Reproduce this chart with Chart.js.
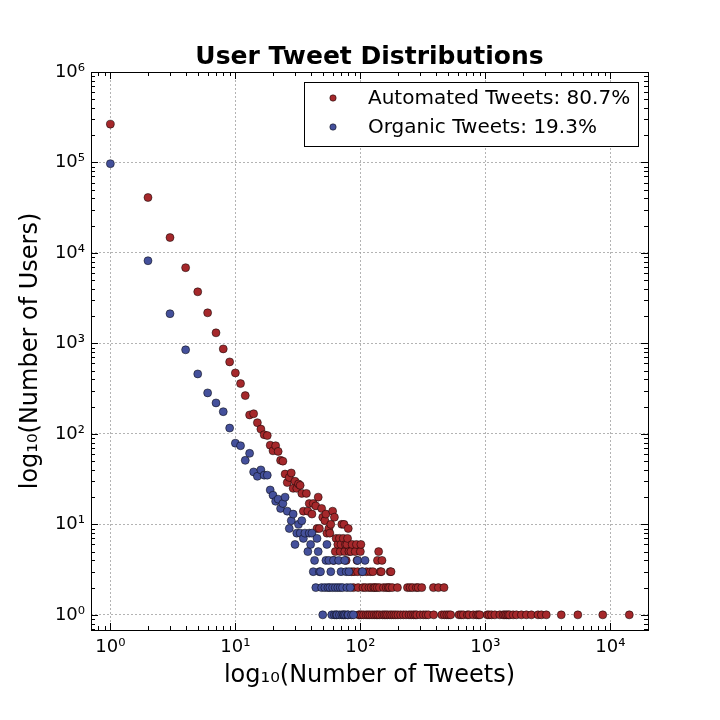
<!DOCTYPE html>
<html>
<head>
<meta charset="utf-8">
<title>User Tweet Distributions</title>
<script src="https://cdn.jsdelivr.net/npm/chart.js@4.4.1/dist/chart.umd.min.js"></script>
<style>
  html, body { margin: 0; padding: 0; background: #fff; }
  #wrap { width: 720px; height: 720px; }
</style>
</head>
<body>
<div id="wrap"><canvas id="tweetChart" width="720" height="720"></canvas></div>
<script>
// number of tweets per user (x) and how many users posted that many (y)
const automatedTweets = [1, 2, 3, 4, 5, 6, 7, 8, 9, 10, 11, 12, 13, 14, 15, 16, 17, 18, 19, 20,
    21, 22, 23, 24, 25, 26, 27, 28, 29, 30, 31, 32, 33, 34, 35, 37, 38, 39, 41, 42,
    44, 45, 46, 47, 49, 50, 52, 53, 54, 56, 57, 58, 60, 61, 62, 63, 64, 66, 68, 69,
    70, 71, 73, 74, 75, 76, 77, 78, 79, 80, 81, 84, 85, 86, 88, 89, 91, 93, 94, 95,
    96, 97, 99, 100, 101, 102, 103, 105, 106, 110, 111, 112, 115, 117, 119, 120, 122, 124, 126, 128,
    129, 131, 134, 136, 137, 138, 140, 142, 143, 144, 147, 149, 150, 153, 155, 160, 161, 165, 167, 171,
    172, 173, 176, 178, 180, 185, 192, 198, 200, 210, 221, 232, 238, 245, 250, 255, 262, 266, 275, 280,
    283, 290, 301, 310, 319, 335, 350, 384, 386, 421, 448, 467, 470, 491, 510, 528, 615, 640, 666, 717,
    740, 800, 851, 880, 904, 1035, 1070, 1120, 1191, 1305, 1387, 1430, 1475, 1520, 1567, 1667, 1772, 1941, 2128, 2334,
    2636, 2806, 3073, 4046, 5490, 8690, 14170];
const automatedUsers = [265000, 41000, 14800, 6870, 3720, 2180, 1310, 870, 625, 472, 360, 265, 162, 167, 133, 113, 98, 96, 75, 65,
    74, 64, 51, 50, 36, 29, 33, 37, 25, 30, 25, 28, 27, 22, 14, 22, 14, 17, 13, 17,
    16, 9, 20, 9, 15, 12, 11, 13, 8, 9, 8, 10, 14, 4, 12, 5, 7, 6, 7, 5,
    6, 10, 7, 10, 5, 6, 4, 6, 7, 9, 5, 5, 3, 6, 2, 3, 5, 6, 4, 3,
    2, 1, 1, 5, 6, 1, 3, 2, 1, 2, 1, 3, 1, 2, 1, 3, 2, 1, 3, 2,
    1, 2, 1, 2, 4, 1, 5, 2, 1, 3, 3, 4, 1, 2, 1, 1, 2, 1, 2, 2,
    1, 3, 3, 1, 2, 1, 1, 2, 1, 1, 1, 1, 2, 1, 2, 1, 2, 1, 1, 2,
    1, 2, 1, 2, 1, 1, 1, 2, 1, 2, 1, 2, 1, 1, 1, 1, 1, 1, 1, 1,
    1, 1, 1, 1, 1, 1, 1, 1, 1, 1, 1, 1, 1, 1, 1, 1, 1, 1, 1, 1,
    1, 1, 1, 1, 1, 1, 1];

const organicTweets = [1, 2, 3, 4, 5, 6, 7, 8, 9, 10, 11, 12, 13, 14, 15, 16, 17, 18, 19, 20,
    21, 22, 23, 24, 25, 26, 27, 28, 29, 30, 31, 32, 33, 34, 35, 36, 38, 39, 40, 41,
    42, 43, 44, 45, 46, 47, 48, 49, 50, 52, 53, 54, 55, 56, 57, 58, 59, 60, 61, 62,
    63, 64, 65, 66, 67, 68, 69, 70, 71, 72, 73, 74, 75, 76, 77, 78, 79, 80, 81, 83,
    85, 88, 95, 104, 109];
const organicUsers = [97000, 8200, 2130, 850, 460, 284, 220, 176, 116, 79, 74, 51, 61, 38, 34, 40, 35, 35, 24, 21,
    18, 19, 15, 17, 20, 14, 9, 11, 13, 6, 8, 10, 8, 11, 7, 8, 5, 8, 6, 8,
    3, 4, 2, 7, 5, 3, 3, 2, 1, 2, 4, 6, 2, 4, 2, 3, 1, 2, 4, 1,
    2, 1, 1, 2, 4, 1, 2, 3, 1, 2, 1, 1, 4, 1, 3, 2, 1, 1, 3, 2,
    1, 1, 4, 3, 4];

const seriesLabels = ['Automated Tweets: 80.7%', 'Organic Tweets: 19.3%'];
const seriesColors = ['#a5282b', '#44509b'];
const decadeTicks = [1, 10, 100, 1000, 10000, 100000, 1000000];

const FONT = "'DejaVu Sans', 'Liberation Sans', sans-serif";
const SUP = ['⁰', '¹', '²', '³', '⁴', '⁵', '⁶', '⁷', '⁸', '⁹'];

function powerLabel(value) {
    const p = Math.round(Math.log10(value));
    return '10' + String(p).split('').map(d => SUP[+d]).join('');
}

function toPoints(xs, ys) {
    return xs.map((x, i) => ({ x: x, y: ys[i] }));
}

function keepDecades(scale) {
    scale.ticks = decadeTicks
        .filter(v => v >= scale.min && v <= scale.max)
        .map(v => ({ value: v, major: true }));
}

// inward major and minor tick marks on all four sides, plus the frame
const frameTicks = {
    id: 'frameTicks',
    afterDraw(chart) {
        const ctx = chart.ctx;
        const a = chart.chartArea;
        const xs = chart.scales.x;
        const ys = chart.scales.y;
        ctx.save();
        ctx.strokeStyle = '#000';
        ctx.lineWidth = 1;
        ctx.beginPath();
        for (let d = -1; d <= 6; d++) {
            for (let k = 1; k <= 9; k++) {
                const v = k * Math.pow(10, d);
                const len = k === 1 ? 7 : 4;
                if (v >= xs.min && v <= xs.max) {
                    const px = Math.round(xs.getPixelForValue(v)) + 0.5;
                    ctx.moveTo(px, a.bottom); ctx.lineTo(px, a.bottom - len);
                    ctx.moveTo(px, a.top); ctx.lineTo(px, a.top + len);
                }
                if (v >= ys.min && v <= ys.max) {
                    const py = Math.round(ys.getPixelForValue(v)) + 0.5;
                    ctx.moveTo(a.left, py); ctx.lineTo(a.left + len, py);
                    ctx.moveTo(a.right, py); ctx.lineTo(a.right - len, py);
                }
            }
        }
        ctx.stroke();
        ctx.strokeRect(Math.round(a.left) + 0.5, Math.round(a.top) + 0.5,
            Math.round(a.right - a.left), Math.round(a.bottom - a.top));
        ctx.restore();
    }
};

// legend drawn inside the upper right corner of the plot
const insideLegend = {
    id: 'insideLegend',
    afterDraw(chart) {
        const ctx = chart.ctx;
        const a = chart.chartArea;
        const w = 334, h = 64;
        const x0 = a.right - 10 - w;
        const y0 = a.top + 10;
        ctx.save();
        ctx.fillStyle = '#fff';
        ctx.fillRect(x0, y0, w, h);
        ctx.strokeStyle = '#000';
        ctx.lineWidth = 1;
        ctx.strokeRect(Math.round(x0) + 0.5, Math.round(y0) + 0.5, w, h);
        ctx.font = '20px ' + FONT;
        ctx.textBaseline = 'middle';
        chart.data.datasets.forEach((ds, i) => {
            const cy = y0 + 16 + i * 29;
            ctx.beginPath();
            ctx.arc(x0 + 29, cy, 3.2, 0, Math.PI * 2);
            ctx.fillStyle = ds.backgroundColor;
            ctx.fill();
            ctx.lineWidth = 0.5;
            ctx.strokeStyle = '#000';
            ctx.stroke();
            ctx.fillStyle = '#000';
            ctx.fillText(ds.label, x0 + 64, cy + 1);
        });
        ctx.restore();
    }
};

const ctx = document.getElementById('tweetChart').getContext('2d');

const tweetChart = new Chart(ctx, {
    type: 'scatter',
    data: {
        datasets: [{
            label: seriesLabels[0],
            data: toPoints(automatedTweets, automatedUsers),
            backgroundColor: seriesColors[0],
            borderColor: '#000',
            borderWidth: 0.5,
            pointRadius: 4,
            order: 1
        }, {
            label: seriesLabels[1],
            data: toPoints(organicTweets, organicUsers),
            backgroundColor: seriesColors[1],
            borderColor: '#000',
            borderWidth: 0.5,
            pointRadius: 4,
            order: 0
        }]
    },
    options: {
        responsive: false,
        animation: false,
        devicePixelRatio: 1,
        layout: { padding: { left: 0, right: 72, top: 0, bottom: 0 } },
        plugins: {
            legend: { display: false },
            tooltip: { enabled: false },
            title: {
                display: true,
                fullSize: false,
                text: 'User Tweet Distributions',
                color: '#000',
                font: { family: FONT, size: 25, weight: 'bold' },
                padding: { top: 42, bottom: 0 }
            }
        },
        scales: {
            x: {
                type: 'logarithmic',
                min: 0.7,
                max: 20000,
                afterBuildTicks: keepDecades,
                afterFit(scale) { scale.height = 90; },
                grid: { color: '#a0a0a0', lineWidth: 0.8, drawTicks: false },
                border: { display: false, dash: [2, 2] },
                ticks: {
                    color: '#000',
                    font: { family: FONT, size: 18 },
                    padding: 7,
                    maxRotation: 0,
                    autoSkip: false,
                    callback: powerLabel
                },
                title: {
                    display: true,
                    text: 'log₁₀(Number of Tweets)',
                    color: '#000',
                    font: { family: FONT, size: 24 },
                    padding: { top: 0, bottom: 30 }
                }
            },
            y: {
                type: 'logarithmic',
                min: 0.68,
                max: 1000000,
                afterBuildTicks: keepDecades,
                afterFit(scale) { scale.width = 91; },
                grid: { color: '#a0a0a0', lineWidth: 0.8, drawTicks: false },
                border: { display: false, dash: [2, 2] },
                ticks: {
                    color: '#000',
                    font: { family: FONT, size: 18 },
                    padding: 6,
                    autoSkip: false,
                    callback: powerLabel
                },
                title: {
                    display: true,
                    text: 'log₁₀(Number of Users)',
                    color: '#000',
                    font: { family: FONT, size: 24 },
                    padding: { top: 16, bottom: 0 }
                }
            }
        }
    },
    plugins: [frameTicks, insideLegend]
});
</script>
</body>
</html>
